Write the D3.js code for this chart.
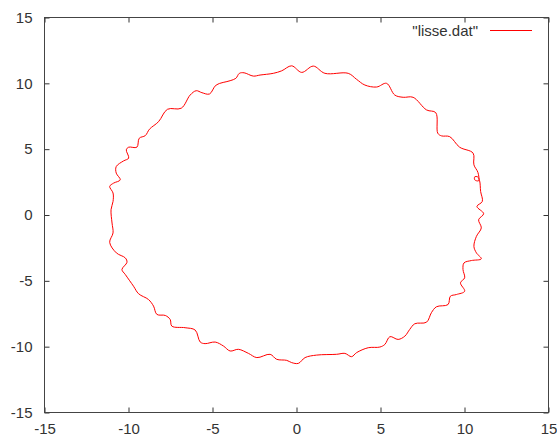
<!DOCTYPE html>
<html>
<head>
<meta charset="utf-8">
<script src="https://cdn.jsdelivr.net/npm/d3@7"></script>
<style>
  body { margin: 0; background: #fff; }
  text { font-family: "Liberation Sans", Arial, sans-serif; font-size: 15px; fill: #333; }
</style>
</head>
<body>
<div id="chart"></div>
<script>
// "lisse.dat" points, traced clockwise from the top
var lisseX = [-0.29, 0.31, 1.00, 1.69, 3.08, 3.58, 4.07, 4.77, 5.36, 5.85, 6.35, 6.94, 7.74, 8.29, 8.41, 8.63, 9.12, 9.71, 10.51, 10.56,
    10.80, 10.84, 10.61, 10.61, 10.78, 10.90, 10.96, 11.06, 10.74, 11.14, 10.84, 11.00, 10.71, 10.56, 10.71, 11.00, 10.41, 9.97, 9.91, 10.01,
    9.76, 10.01, 9.52, 9.16, 9.02, 8.33, 8.03, 7.74, 7.04, 6.74, 6.45, 6.05, 5.56, 5.26, 4.96, 4.27, 3.58, 3.28, 2.88, 2.39,
    1.20, 0.51, 0.11, -0.29, -0.58, -1.18, -1.57, -2.36, -2.86, -3.46, -3.95, -4.35, -4.84, -5.44, -5.73, -6.03, -6.63, -7.42, -7.52, -7.81,
    -8.31, -8.51, -8.81, -9.40, -9.70, -10.19, -10.39, -10.09, -10.19, -10.72, -11.12, -10.92, -10.98, -11.04, -10.92, -10.92, -11.12, -10.89, -10.49, -10.73,
    -10.73, -10.29, -9.99, -10.13, -9.99, -9.50, -9.36, -9.00, -8.75, -8.21, -7.68, -6.86, -6.33, -5.97, -5.63, -5.18, -4.78, -3.95, -3.61, -3.40,
    -3.12, -2.57, -2.17, -1.38, -0.88];
var lisseY = [11.33, 10.83, 11.31, 10.76, 10.76, 10.30, 9.87, 9.72, 10.00, 9.11, 8.94, 8.94, 7.98, 7.77, 6.21, 6.01, 5.95, 5.15, 4.70, 3.81,
    3.23, 2.60, 2.67, 2.90, 2.90, 2.60, 1.79, 1.03, 0.65, 0.10, -0.36, -0.98, -1.62, -2.38, -2.88, -3.33, -3.46, -3.64, -4.14, -4.77,
    -5.15, -5.79, -6.04, -6.17, -6.80, -6.97, -7.42, -8.14, -8.26, -8.69, -9.20, -9.45, -9.24, -9.83, -10.03, -10.08, -10.45, -10.76, -10.51, -10.58,
    -10.64, -10.83, -11.27, -11.21, -11.04, -10.96, -10.58, -10.83, -10.51, -10.20, -10.33, -9.95, -9.65, -9.77, -9.65, -8.74, -8.56, -8.44, -7.93, -7.63,
    -7.55, -6.92, -6.42, -5.98, -5.41, -4.52, -4.14, -3.59, -3.26, -2.88, -2.08, -1.36, -0.61, 0.40, 1.03, 1.67, 2.17, 2.42, 2.67, 3.18,
    3.68, 4.11, 4.32, 4.95, 5.15, 5.15, 5.83, 6.03, 6.52, 7.09, 8.03, 8.11, 9.11, 9.44, 9.29, 9.19, 9.87, 10.20, 10.38, 10.76,
    10.80, 10.55, 10.63, 10.76, 10.95];

var xTicks = [-15, -10, -5, 0, 5, 10, 15];
var yTicks = [-15, -10, -5, 0, 5, 10, 15];
var seriesName = '"lisse.dat"';

var width = 557,
    height = 438,
    plotLeft = 44.5,
    plotRight = 548.5,
    plotTop = 17.5,
    plotBottom = 412.5,
    tickLen = 5;

var svg = d3.select('#chart')
    .append('svg')
    .attr('width', width)
    .attr('height', height);

var x = d3.scaleLinear().domain([-15, 15]).range([plotLeft, plotRight]);
var y = d3.scaleLinear().domain([-15, 15]).range([plotBottom, plotTop]);

// plain hyphen for negatives, as gnuplot prints them
var fmt = function (d) { return String(d); };

// ticks point inward on all four sides, like gnuplot
svg.append('g')
    .attr('transform', 'translate(0,' + plotBottom + ')')
    .call(d3.axisBottom(x).tickValues(xTicks).tickSize(-tickLen).tickPadding(11).tickFormat(fmt));
svg.append('g')
    .attr('transform', 'translate(0,' + plotTop + ')')
    .call(d3.axisTop(x).tickValues(xTicks).tickSize(-tickLen).tickFormat(''));
svg.append('g')
    .attr('transform', 'translate(' + plotLeft + ',0)')
    .call(d3.axisLeft(y).tickValues(yTicks).tickSize(-tickLen).tickPadding(12).tickFormat(fmt));
svg.append('g')
    .attr('transform', 'translate(' + plotRight + ',0)')
    .call(d3.axisRight(y).tickValues(yTicks).tickSize(-tickLen).tickFormat(''));

svg.selectAll('.domain').remove();
svg.selectAll('.tick line').attr('stroke', '#333');
svg.selectAll('.tick text')
    .style('font-family', '"Liberation Sans", Arial, sans-serif')
    .style('font-size', '15px')
    .attr('fill', '#333');

svg.append('rect')
    .attr('x', plotLeft)
    .attr('y', plotTop)
    .attr('width', plotRight - plotLeft)
    .attr('height', plotBottom - plotTop)
    .attr('fill', 'none')
    .attr('stroke', '#444')
    .attr('stroke-width', 1);

var points = d3.zip(lisseX, lisseY);

var line = d3.line()
    .x(function (d) { return x(d[0]); })
    .y(function (d) { return y(d[1]); })
    .curve(d3.curveCatmullRomClosed.alpha(0.5));

svg.append('path')
    .datum(points)
    .attr('d', line)
    .attr('fill', 'none')
    .attr('stroke', '#ff0000')
    .attr('stroke-width', 1);

// legend
svg.append('text')
    .attr('x', 478)
    .attr('y', 35.5)
    .attr('text-anchor', 'end')
    .text(seriesName);
svg.append('line')
    .attr('x1', 490)
    .attr('x2', 532)
    .attr('y1', 30.5)
    .attr('y2', 30.5)
    .attr('stroke', '#ff0000')
    .attr('stroke-width', 1);
</script>
</body>
</html>
